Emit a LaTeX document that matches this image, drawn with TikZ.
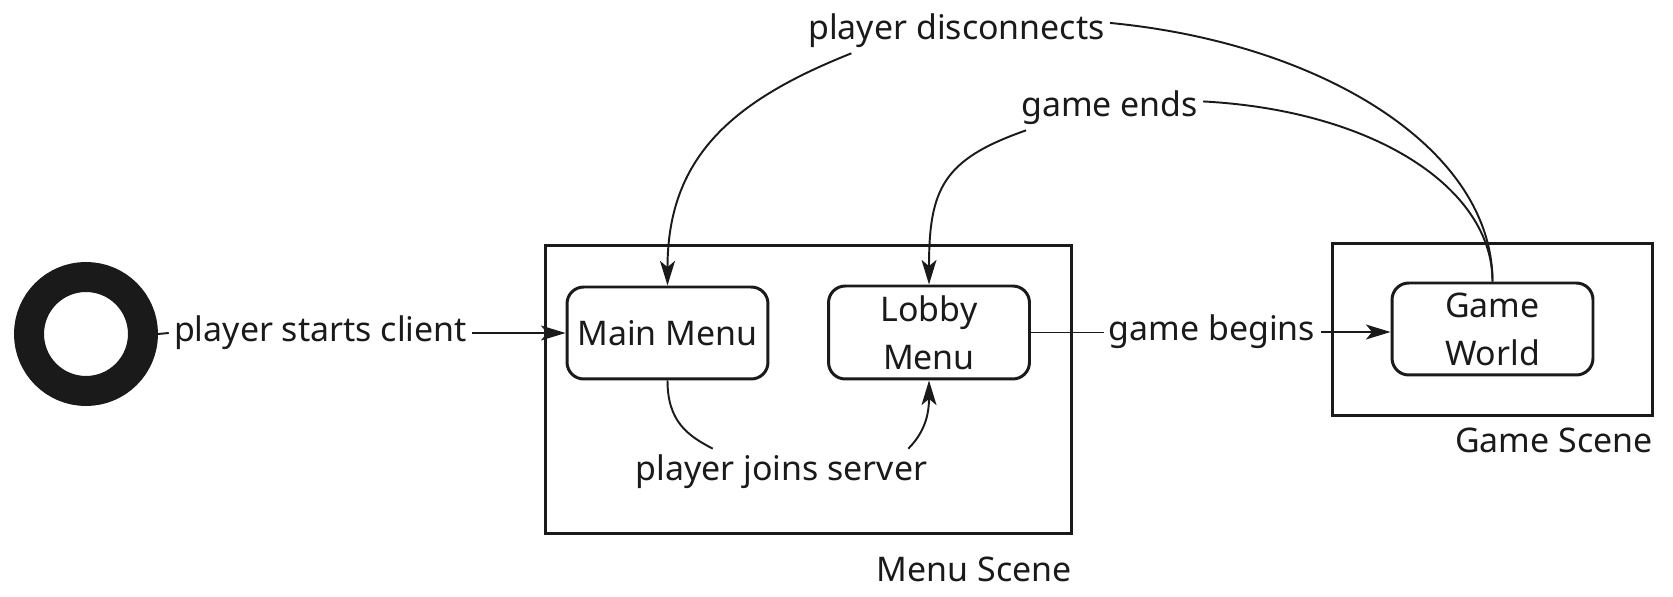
\documentclass[tikz,border=0pt]{standalone}
\usepackage{fontspec}
\setmainfont{Noto Sans}
\usetikzlibrary{arrows.meta,calc}
\definecolor{ink}{HTML}{1A1A1A}
\begin{document}
\begin{tikzpicture}[x=0.02cm,y=-0.02cm,
  every node/.style={font=\fontsize{19.3pt}{27.3pt}\selectfont,text=ink},
  statebox/.style={draw=ink,line width=1.7pt,rounded corners=9.5pt,minimum width=4.02cm,minimum height=1.84cm,align=center,inner sep=0pt},
  scenebox/.style={draw=ink,line width=1.7pt,inner sep=0pt},
  edgelabel/.style={inner sep=0.1cm,text height=0.52cm,text depth=0.16cm,anchor=base},
  flow/.style={draw=ink,line width=1.1pt},
  arrowed/.style={flow,-{Stealth[length=14pt,width=8.5pt,inset=3.5pt]}}]
\useasboundingbox (0,0) rectangle (1673,597);
\node[circle,draw=ink,line width=0.6cm,minimum size=2.28cm,inner sep=0pt] (start) at (86,334) {};
%
\node[scenebox,minimum width=10.54cm,minimum height=5.78cm] (menuscene) at (808.5,389.5) {};
\node[anchor=base east,inner sep=0pt] (menuscenelbl) at (1072,582) {Menu Scene};
\node[scenebox,minimum width=6.42cm,minimum height=3.46cm] (gamescene) at (1492.5,329.5) {};
\node[anchor=base east,inner sep=0pt] (gamescenelbl) at (1653,453) {Game Scene};
%
\node[statebox] (mainmenu) at (667.5,333) {Main Menu};
\node[statebox,minimum height=1.86cm] (lobby) at (929,332.5) {Lobby\\Menu};
\node[statebox] (gameworld) at (1492.5,329) {Game\\World};
%
\node[edgelabel] (startlbl) at (320.5,342) {player starts client};
\node[edgelabel] (beginlbl) at (1212,341) {game begins};
\node[edgelabel] (joinlbl) at (781.5,480) {player joins server};
\node[edgelabel] (disclbl) at (956.5,40) {player disconnects};
\node[edgelabel] (endlbl) at (1109.5,117) {game ends};
%
\draw[flow] (start.east) -- (startlbl.west);
\draw[arrowed] (startlbl.east) -- (startlbl.east -| mainmenu.west);
\draw[flow] (lobby.east) -- (lobby.east -| beginlbl.west);
\draw[arrowed] (beginlbl.east) -- (beginlbl.east -| gameworld.west);
%
\draw[flow] (mainmenu.south) .. controls +(0,41) and +(-25,-13) .. (joinlbl.162);
\draw[arrowed] (joinlbl.10) .. controls +(18,-18) and +(0,31) .. (lobby.south);
%
\draw[flow] (gameworld.north) .. controls +(0,-134) and +(210,20) .. (disclbl.3);
\draw[arrowed] (disclbl.192) .. controls +(-121,48) and +(0,-127) .. (mainmenu.north);
\draw[flow] (gameworld.north) .. controls +(0,-94) and +(170,9) .. (endlbl.4);
\draw[arrowed] (endlbl.195) .. controls +(-83,29) and +(0,-96) .. (lobby.north);
\end{tikzpicture}
\end{document}
